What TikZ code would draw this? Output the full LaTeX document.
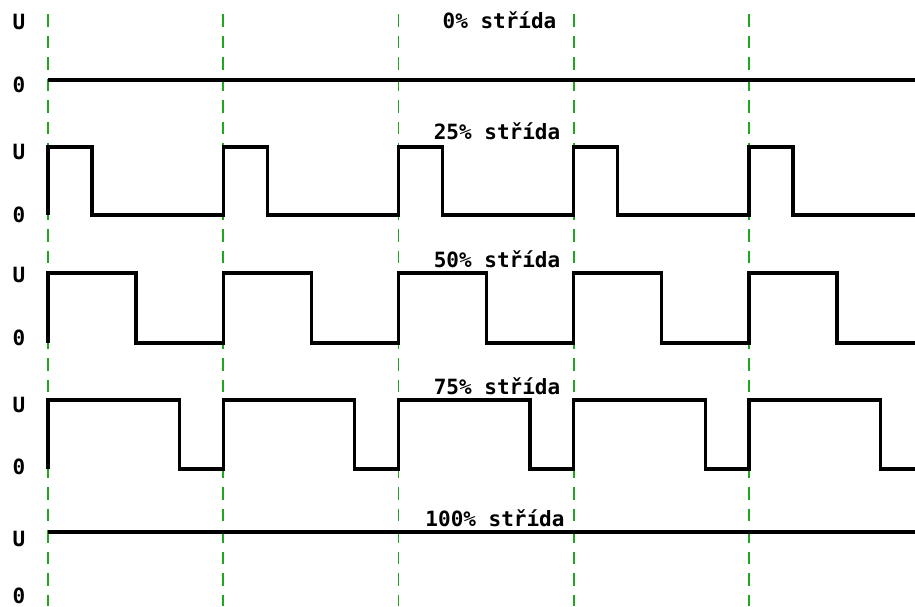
\documentclass[tikz,border=0pt]{standalone}
\usepackage{fontspec}
\setmonofont{DejaVu Sans Mono}
\usetikzlibrary{positioning}
\definecolor{pwmGrid}{HTML}{1FA81F}
\definecolor{pwmWave}{HTML}{000000}
\tikzset{
  gridline/.style={pwmGrid, line width=1.7pt, dash pattern=on 12.5pt off 9pt},
  wave/.style={pwmWave, line width=3.2pt, line join=miter, line cap=butt},
  lvl/.style={font=\fontsize{21}{24}\selectfont\ttfamily\bfseries, inner sep=0pt, anchor=center},
  duty/.style={lvl}
}
\begin{document}
\begin{tikzpicture}[x=1pt, y=-1pt]
  \useasboundingbox (0,0) rectangle (915,606);
  % period grid
  \foreach \gx in {48,223.25,398.5,573.75,749} {
    \draw[gridline] (\gx,14) -- (\gx,606);
  }
  % level labels
  \foreach \ly/\lt/\nm in {22/U/uA,85/0/zA,152/U/uB,215/0/zB,275/U/uC,338/0/zC,
                          405/U/uD,467/0/zD,539/U/uE,596/0/zE} {
    \node[lvl] (\nm) at (19,\ly) {\lt};
  }
  % duty titles
  \node[duty] (dA) at (499.5,20) {0\% střída};
  \node[duty] (dB) at (497,131) {25\% střída};
  \node[duty] (dC) at (497,259) {50\% střída};
  \node[duty] (dD) at (497,386) {75\% střída};
  \node[duty] (dE) at (495,518) {100\% střída};
  % 0 % and 100 %
  \draw[wave] (48,80) -- (915,80);
  \draw[wave] (48,532) -- (915,532);
  % pulse trains: high level / low level / pulse width
  \foreach \hi/\lo/\w in {147/215/44, 273/343/88, 400/469/131.5} {
    \draw[wave] (48,\lo)
      \foreach \px in {48,223.25,398.5,573.75,749} {
        -- (\px,\lo) -- (\px,\hi) -- ({\px+\w},\hi) -- ({\px+\w},\lo)
      } -- (915,\lo);
  }
\end{tikzpicture}
\end{document}
